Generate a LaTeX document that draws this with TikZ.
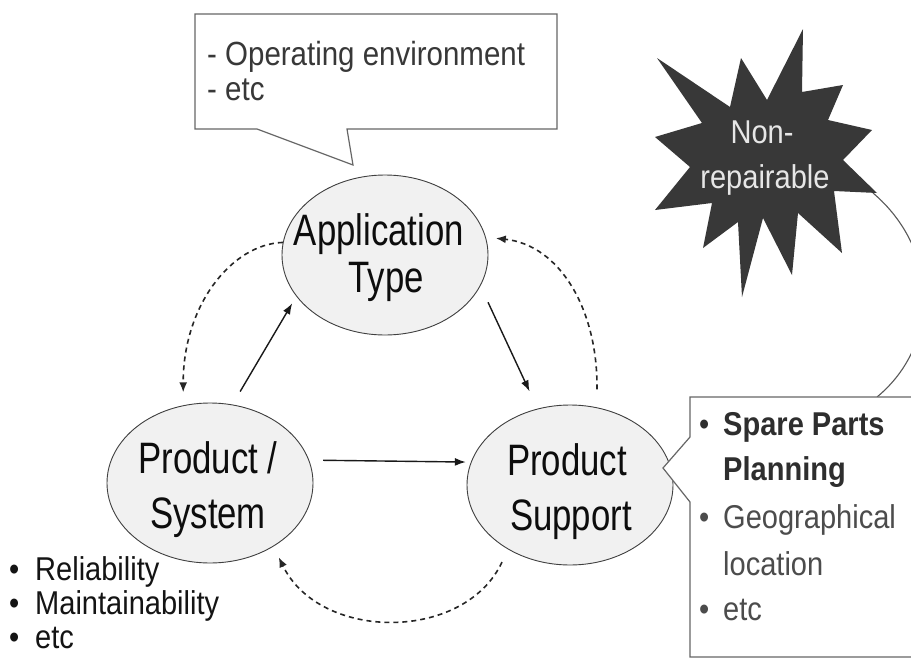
\documentclass[tikz,border=0pt]{standalone}
\usepackage{fontspec}
\setmainfont{Liberation Sans}
\newfontfamily\ellfont{Liberation Sans}[FakeStretch=0.79]
\newfontfamily\smallfont{Liberation Sans}[FakeStretch=0.88]
\usetikzlibrary{shapes.geometric,arrows.meta}
\definecolor{ellfill}{HTML}{F1F1F1}
\definecolor{starfill}{HTML}{383838}
\definecolor{startext}{HTML}{E6E6E6}
\begin{document}
\begin{tikzpicture}[x=1pt,y=-1pt,
  ell/.style={ellipse, draw=black!75, line width=0.9pt, fill=ellfill, minimum width=206pt, minimum height=160pt, inner sep=0pt},
  elltext/.style={font=\ellfont\fontsize{44}{50}\selectfont, text=black!95, anchor=base, inner sep=0pt},
  txt/.style={font=\smallfont\fontsize{33}{40}\selectfont, anchor=base west, inner sep=0pt},
  ctxt/.style={font=\smallfont\fontsize{33}{40}\selectfont, anchor=base, inner sep=0pt},
  solidarrow/.style={-{Latex[length=11pt,width=8pt]}, line width=1.4pt, draw=black!90},
  dasharrow/.style={-{Latex[length=10pt,width=8pt]}, line width=1.6pt, draw=black!85, dash pattern=on 5pt off 4pt},
  callout/.style={draw=black!60, line width=1.2pt, fill=white}]
\useasboundingbox (0,0) rectangle (911,667);
\fill[white] (0,0) rectangle (911,667);

% ellipses
\node[ell] (app) at (385,255) {};
\node[ell] (ps) at (210,483) {};
\node[ell] (supp) at (570,485) {};

\node[elltext] (appA) at (379,245) {Application};
\node[elltext] (appB) at (386,292) {Type};
\node[elltext] (psA) at (208,473) {Product /};
\node[elltext] (psB) at (208,528) {System};
\node[elltext] (suppA) at (567,475) {Product};
\node[elltext] (suppB) at (571,530) {Support};

% solid arrows
\draw[solidarrow, shorten <=15pt, shorten >=8pt] (ps.74) -- (app.205);
\draw[solidarrow, shorten <=18pt, shorten >=19pt] (app.342) -- (supp.113);
\draw[solidarrow, shorten <=14pt, shorten >=5pt] (ps.13) -- (supp.167);

% dashed arrows
\draw[dasharrow, shorten >=13pt] (app.173) .. controls (232,244) and (183,305) .. (ps.109);
\draw[dasharrow, shorten <=18pt, shorten >=10pt] (supp.71) .. controls (598,310) and (560,245) .. (app.10);
\draw[dasharrow, shorten <=14pt, shorten >=12pt] (supp.226) .. controls (465,642) and (320,642) .. (ps.315);

% top callout
\draw[callout] (195,14) -- (557,14) -- (557,129) -- (347,129) -- (353,165) -- (257,129) -- (195,129) -- cycle;
\node[txt, text=black!78, font=\smallfont\fontsize{33.5}{40}\selectfont] (opA) at (207,65) {- Operating environment};
\node[txt, text=black!78, font=\smallfont\fontsize{33.5}{40}\selectfont] (opB) at (207,100) {- etc};

% connector star -> right box
\coordinate (starR) at (873,193);
\coordinate (boxTop) at (877,397);
\draw[black!65, line width=1.1pt] (starR) .. controls (940,250) and (940,345) .. (boxTop);

% star
\fill[starfill] (803,29) -- (802,92) -- (843,85) -- (828,120) -- (872,130) -- (843,160) -- (877,193)
  -- (834,191) -- (842,253) -- (798,213) -- (792,275) -- (763,218) -- (742,297) -- (738,222)
  -- (703,248) -- (712,203) -- (655,210) -- (690,167) -- (655,137) -- (702,123) -- (657,58)
  -- (730,107) -- (741,58) -- (767,100) -- cycle;
\node[ctxt, text=startext] (nonA) at (762,143) {Non-};
\node[ctxt, text=startext] (nonB) at (765,188) {repairable};

% right callout
\draw[callout] (690,397) -- (690,437) -- (663,468) -- (690,502) -- (690,657) -- (935,657) -- (935,397) -- cycle;
\node[txt, text=black!82] (rA) at (699,435) {\makebox[24pt][l]{•}\textbf{Spare Parts}};
\node[txt, text=black!82] (rB) at (723,480) {\textbf{Planning}};
\node[txt, text=black!70] (rC) at (699,528) {\makebox[24pt][l]{•}Geographical};
\node[txt, text=black!70] (rD) at (723,575) {location};
\node[txt, text=black!70] (rE) at (699,620) {\makebox[24pt][l]{•}etc};

% bottom-left list
\node[txt, text=black!92] (lA) at (9,580) {\makebox[26pt][l]{•}Reliability};
\node[txt, text=black!92] (lB) at (9,614) {\makebox[26pt][l]{•}Maintainability};
\node[txt, text=black!92] (lC) at (9,648) {\makebox[26pt][l]{•}etc};
\end{tikzpicture}
\end{document}
